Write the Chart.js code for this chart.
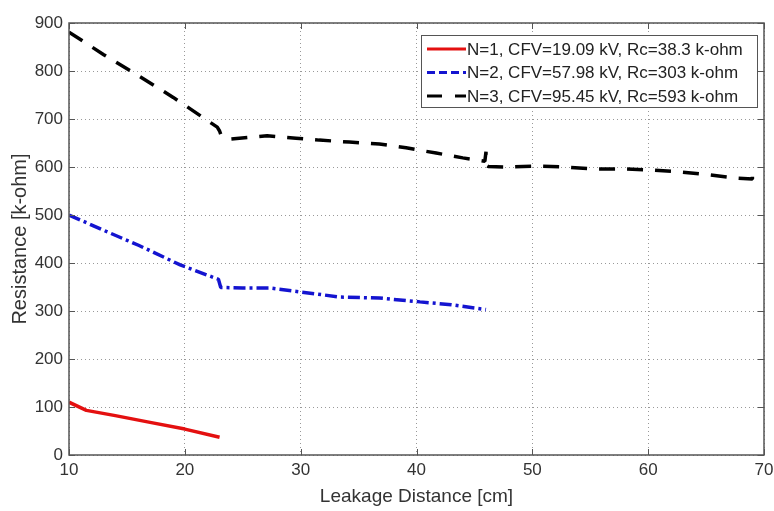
<!DOCTYPE html>
<html>
<head>
<meta charset="utf-8">
<script src="https://cdn.jsdelivr.net/npm/chart.js@4.4.1/dist/chart.umd.min.js"></script>
<style>
  html, body { margin: 0; padding: 0; background: #fff; }
  #wrap { width: 774px; height: 511px; }
</style>
</head>
<body>
<div id="wrap"><canvas id="grafico" width="774" height="511"></canvas></div>
<script>
// datos
const etiquetas = [
  'N=1, CFV=19.09 kV, Rc=38.3 k-ohm',
  'N=2, CFV=57.98 kV, Rc=303 k-ohm',
  'N=3, CFV=95.45 kV, Rc=593 k-ohm'
];
const colores = ['#e41010', '#1414d0', '#000000'];

const x1 = [10, 11.5, 14, 17, 20, 23];
const y1 = [110, 93, 82, 68, 54, 37];

const x2 = [10, 13, 16, 19.6, 22.9, 23.1, 25, 27.3, 29.9, 33.4, 36.8, 40.3, 43, 46];
const y2 = [500, 468, 437, 396, 366, 349, 348, 348, 340, 329, 327, 319, 313, 303];

const x3 = [10, 13, 16, 19, 22.8, 23, 23.1, 23.9, 27.1, 29.6, 31.6, 34.2, 36.8, 39.1, 41.7, 44, 45.9, 46, 46,
  46.2, 47.8, 50.3, 52.7, 55.2, 57.7, 60.1, 62.7, 65.1, 67.6, 69, 69];
const y3 = [881, 834, 790, 745, 683, 675, 668, 658, 665, 660, 656, 652, 648, 640, 629, 619, 612, 632, 604,
  601, 600, 602, 600, 596, 596, 594, 590, 584, 577, 575, 592];

const xTicks = [10, 20, 30, 40, 50, 60, 70];

function puntos(xs, ys) {
  return xs.map((x, i) => ({ x: x, y: ys[i] }));
}

const fuente = "'Liberation Sans', Arial, sans-serif";

// leyenda dentro del area, arriba a la derecha
const leyendaPlugin = {
  id: 'leyenda',
  afterDraw(chart) {
    const ctx = chart.ctx;
    const left = 421, top = 35, w = 336, h = 72;
    ctx.save();
    ctx.fillStyle = '#fff';
    ctx.fillRect(left, top, w, h);
    ctx.strokeStyle = '#555';
    ctx.lineWidth = 1;
    ctx.strokeRect(left + 0.5, top + 0.5, w, h);
    chart.data.datasets.forEach((ds, i) => {
      const y = top + 14 + i * 23.5;
      ctx.beginPath();
      ctx.strokeStyle = ds.borderColor;
      ctx.lineWidth = 3;
      ctx.setLineDash(i === 0 ? [] : i === 1 ? [8, 4] : [15, 13]);
      ctx.moveTo(427, y);
      ctx.lineTo(466, y);
      ctx.stroke();
      ctx.setLineDash([]);
      ctx.fillStyle = '#222';
      ctx.font = '17px ' + fuente;
      ctx.textBaseline = 'middle';
      ctx.textAlign = 'left';
      ctx.fillText(ds.label, 467, y + 1);
    });
    ctx.restore();
  }
};

// marcas hacia dentro y marco
const marcoPlugin = {
  id: 'marco',
  afterDatasetsDraw(chart) {
    const ctx = chart.ctx;
    const a = chart.chartArea;
    const sx = chart.scales.x, sy = chart.scales.y;
    ctx.save();
    ctx.strokeStyle = '#555';
    ctx.lineWidth = 1;
    ctx.beginPath();
    sx.ticks.forEach(t => {
      const p = Math.round(sx.getPixelForValue(t.value)) + 0.5;
      ctx.moveTo(p, a.bottom); ctx.lineTo(p, a.bottom - 6);
      ctx.moveTo(p, a.top); ctx.lineTo(p, a.top + 6);
    });
    sy.ticks.forEach(t => {
      const p = Math.round(sy.getPixelForValue(t.value)) + 0.5;
      ctx.moveTo(a.left, p); ctx.lineTo(a.left + 6, p);
      ctx.moveTo(a.right, p); ctx.lineTo(a.right - 6, p);
    });
    ctx.stroke();
    ctx.lineWidth = 1.5;
    ctx.strokeRect(a.left, a.top, a.right - a.left, a.bottom - a.top);
    ctx.restore();
  }
};

const ctx = document.getElementById('grafico').getContext('2d');
new Chart(ctx, {
  type: 'line',
  data: {
    datasets: [
      {
        label: etiquetas[0], data: puntos(x1, y1), borderColor: colores[0],
        borderWidth: 3.5, pointRadius: 0, tension: 0, borderJoinStyle: 'round'
      },
      {
        label: etiquetas[1], data: puntos(x2, y2), borderColor: colores[1],
        borderWidth: 3.5, borderDash: [12, 4, 3, 4], pointRadius: 0, tension: 0, borderJoinStyle: 'bevel'
      },
      {
        label: etiquetas[2], data: puntos(x3, y3), borderColor: colores[2],
        borderWidth: 3.5, borderDash: [16, 12], pointRadius: 0, tension: 0, borderJoinStyle: 'bevel'
      }
    ]
  },
  options: {
    responsive: false,
    animation: false,
    layout: { padding: { top: 23, right: 0, left: 0, bottom: 0 } },
    plugins: {
      legend: { display: false },
      tooltip: { enabled: false }
    },
    scales: {
      x: {
        type: 'linear', min: 10, max: 70,
        afterBuildTicks: s => { s.ticks = xTicks.map(v => ({ value: v })); },
        afterFit: s => { s.height = 56; s.paddingRight = 10; },
        grid: { color: '#999', lineWidth: 1, drawTicks: false },
        border: { display: false, dash: [1, 3] },
        ticks: { color: '#333', font: { size: 17, family: fuente }, padding: 5, maxRotation: 0 },
        title: { display: true, text: 'Leakage Distance [cm]', color: '#333', font: { size: 19, family: fuente }, padding: { top: 2, bottom: 3 } }
      },
      y: {
        min: 0, max: 900,
        afterFit: s => { s.width = 69; },
        grid: { color: '#999', lineWidth: 1, drawTicks: false },
        border: { display: false, dash: [1, 3] },
        ticks: { stepSize: 100, color: '#333', font: { size: 17, family: fuente }, padding: 6 },
        title: { display: true, text: 'Resistance [k-ohm]', color: '#333', font: { size: 20, family: fuente }, padding: { top: 8, bottom: 4 } }
      }
    }
  },
  plugins: [marcoPlugin, leyendaPlugin]
});
</script>
</body>
</html>
